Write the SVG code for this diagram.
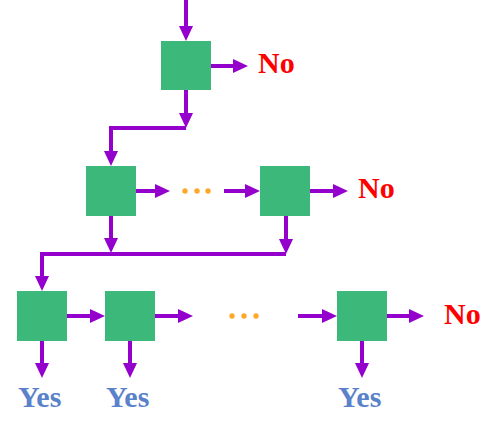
<svg xmlns="http://www.w3.org/2000/svg" width="499" height="431" viewBox="0 0 499 431">
<defs>
<marker id="ah" markerUnits="userSpaceOnUse" markerWidth="15" markerHeight="14" refX="7" refY="7" orient="auto">
<path d="M0,0 L15,7 L0,14 Z" fill="#9400CC"/>
</marker>
<style>
.box{fill:#3DB87B;}
.c{fill:none;stroke:#9400CC;stroke-width:4;}
.a{marker-end:url(#ah);}
.dot{fill:#FFA726;}
.no{font-family:"Liberation Serif",serif;font-weight:bold;font-size:30px;fill:#FF0000;}
.yes{font-family:"Liberation Serif",serif;font-weight:bold;font-size:30px;fill:#5A82CB;}
</style>
</defs>
<rect width="499" height="431" fill="#FFFFFF"/>
<g id="connectors">
<path class="c a" d="M186,0 V33"/>
<path class="c a" d="M211,66 H240"/>
<path class="c a" d="M186,90 V120"/>
<path class="c a" d="M186,128 H111 V158"/>
<path class="c a" d="M136,191 H162"/>
<path class="c a" d="M224,191 H252"/>
<path class="c a" d="M310,191 H340"/>
<path class="c a" d="M111,216 V245"/>
<path class="c a" d="M286,216 V246"/>
<path class="c a" d="M286,254 H42 V283"/>
<path class="c a" d="M67,316 H97"/>
<path class="c a" d="M155,316 H185"/>
<path class="c a" d="M298,316 H329"/>
<path class="c a" d="M387,316 H416"/>
<path class="c a" d="M42,341 V370"/>
<path class="c a" d="M130,341 V370"/>
<path class="c a" d="M362,341 V370"/>
</g>
<g id="dots1">
<circle class="dot" cx="185" cy="191" r="2.7"/>
<circle class="dot" cx="197" cy="191" r="2.7"/>
<circle class="dot" cx="208" cy="191" r="2.7"/>
</g>
<g id="dots2">
<circle class="dot" cx="232" cy="316" r="2.7"/>
<circle class="dot" cx="244" cy="316" r="2.7"/>
<circle class="dot" cx="256" cy="316" r="2.7"/>
</g>
<g id="box1"><rect class="box" x="161" y="41" width="50" height="49"/></g>
<g id="box2"><rect class="box" x="86" y="166" width="50" height="50"/></g>
<g id="box3"><rect class="box" x="260" y="166" width="50" height="50"/></g>
<g id="box4"><rect class="box" x="17" y="291" width="50" height="50"/></g>
<g id="box5"><rect class="box" x="105" y="291" width="50" height="50"/></g>
<g id="box6"><rect class="box" x="337" y="291" width="50" height="50"/></g>
<g id="labels">
<text class="no" x="258" y="73">No</text>
<text class="no" x="358" y="198">No</text>
<text class="no" x="444" y="324">No</text>
<text class="yes" x="18" y="407">Yes</text>
<text class="yes" x="106" y="407">Yes</text>
<text class="yes" x="338" y="407">Yes</text>
</g>
</svg>
